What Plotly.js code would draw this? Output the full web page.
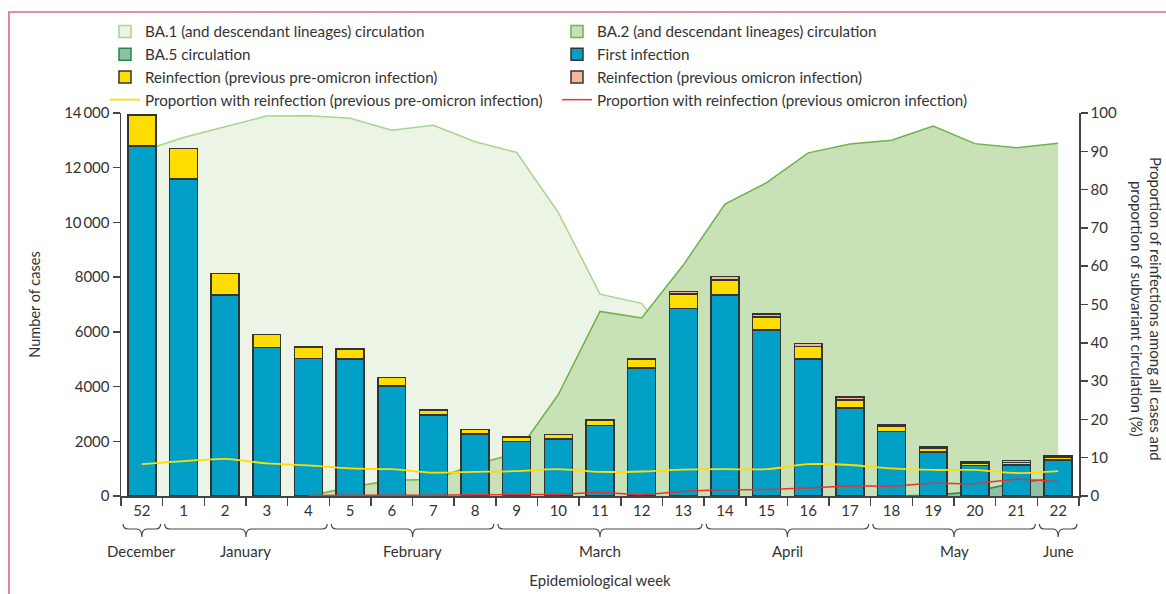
<!DOCTYPE html>
<html>
<head>
<meta charset="utf-8">
<script src="https://cdn.plot.ly/plotly-3.0.1.min.js"></script>
<style>
  html, body { margin:0; padding:0; background:#fff; }
  #chart { width:1166px; height:594px; }
</style>
</head>
<body>
<div id="chart"></div>
<script>
// ---------- DATA ----------
const weeks = ['52','1','2','3','4','5','6','7','8','9','10','11','12','13','14','15','16','17','18','19','20','21','22'];
const firstInfection = [12790,11580,7350,5420,5030,5000,4020,2960,2270,2000,2080,2580,4680,6860,7350,6070,5000,3220,2350,1610,1120,1130,1320];
const reinfPreOmicron = [1130,1130,790,490,420,365,305,175,165,160,160,185,320,520,552,467,463,296,202,129,91,102,96];
const reinfOmicron = [0,0,0,0,0,5,5,5,5,10,10,25,20,90,128,113,117,94,68,61,39,58,54];
const propPreOmicron = [8.3,9.1,9.7,8.5,8.0,7.2,7.0,6.1,6.3,6.5,7.0,6.3,6.4,6.9,7.0,7.0,8.3,8.1,7.2,6.8,6.8,6.0,6.5];
const propOmicron = [null,null,null,null,0.1,0.2,0.2,0.2,0.3,0.4,0.4,0.9,0.4,1.2,1.6,1.7,2.1,2.6,2.6,3.3,3.2,4.4,3.7];
const ba1 = [90.0,93.6,96.4,99.2,99.3,98.6,95.5,96.8,92.5,89.7,74.0,52.7,50.3,36,22,16,10,7,5,3,2,1,1];
const ba2 = [null,null,null,null,0,2.3,4.1,4.3,8.2,11.2,26.5,48.2,46.5,60.3,76.2,81.8,89.6,91.9,92.9,96.6,92.0,90.9,92.1];
const ba5 = [null,null,null,null,null,null,null,null,null,null,null,null,null,null,null,null,null,null,0,0.2,1.2,3.5,4.6];
const months = ['December','January','February','March','April','May','June'];
const monthStart = [0,1,5,9,14,18,22];
const monthEnd = [0,4,8,13,17,21,22];
const leftTicks = [0,2000,4000,6000,8000,10000,12000,14000];
const leftTickText = ['0','2000','4000','6000','8000','10\u2009000','12\u2009000','14\u2009000'];
const rightTicks = [0,10,20,30,40,50,60,70,80,90,100];

// ---------- STYLE ----------
const C = {
  blue:'#02A0C6', yellow:'#FFDD00', salmon:'#F8B79C', edge:'#333333',
  ba1Fill:'#ECF4E5', ba1Line:'#A9D48F',
  ba2Fill:'#C9E1B6', ba2Line:'#6DB24A',
  ba5Fill:'#90C0A3', ba5Line:'#1F8A4C',
  yLine:'#FFDD00', rLine:'#E8342B', axis:'#444444', text:'#333333'
};
const idx = weeks.map((w,i)=>i);
const PL=121, PR=1079, PT=113, PB=496, H=PB-PT, W=PR-PL;
const py = p => (PB - p)/H;
const px = p => (p - PL)/W;

const traces = [];
// areas (base axis y, 0-100)
traces.push({type:'scatter', mode:'lines', x:idx, y:ba1, yaxis:'y', fill:'tozeroy', fillcolor:C.ba1Fill,
  line:{color:C.ba1Line, width:1.5}, showlegend:false, hoverinfo:'skip'});
traces.push({type:'scatter', mode:'lines', x:idx, y:ba2, yaxis:'y', fill:'tozeroy', fillcolor:C.ba2Fill,
  line:{color:C.ba2Line, width:1.5}, showlegend:false, hoverinfo:'skip'});
traces.push({type:'scatter', mode:'lines', x:idx, y:ba5, yaxis:'y', fill:'tozeroy', fillcolor:C.ba5Fill,
  line:{color:C.ba5Line, width:1.5}, showlegend:false, hoverinfo:'skip'});

// bars (y2)
const barLine = {color:C.edge, width:1.5};
traces.push({type:'bar', name:'First infection', x:idx, y:firstInfection, yaxis:'y2',
  marker:{color:C.blue, line:barLine}, legendrank:4});
traces.push({type:'bar', name:'Reinfection (previous pre-omicron infection)', x:idx, y:reinfPreOmicron, yaxis:'y2',
  marker:{color:C.yellow, line:barLine}, legendrank:5});
traces.push({type:'bar', name:'Reinfection (previous omicron infection)', x:idx, y:reinfOmicron, yaxis:'y2',
  marker:{color:C.salmon, line:barLine}, legendrank:6});
// legend-only entries for areas
traces.push({type:'bar', name:'BA.1 (and descendant lineages) circulation', x:[null], y:[null], yaxis:'y2',
  marker:{color:C.ba1Fill, line:{color:C.ba1Line, width:1.5}}, legendrank:1, hoverinfo:'skip'});
traces.push({type:'bar', name:'BA.2 (and descendant lineages) circulation', x:[null], y:[null], yaxis:'y2',
  marker:{color:C.ba2Fill, line:{color:C.ba2Line, width:1.5}}, legendrank:2, hoverinfo:'skip'});
traces.push({type:'bar', name:'BA.5 circulation', x:[null], y:[null], yaxis:'y2',
  marker:{color:C.ba5Fill, line:{color:C.ba5Line, width:1.5}}, legendrank:3, hoverinfo:'skip'});

// lines (y3)
traces.push({type:'scatter', mode:'lines', name:'Proportion with reinfection (previous pre-omicron infection)',
  x:idx, y:propPreOmicron, yaxis:'y3', line:{color:C.yLine, width:1.8, shape:'spline', smoothing:0.8}, legendrank:7});
traces.push({type:'scatter', mode:'lines', name:'Proportion with reinfection (previous omicron infection)',
  x:idx, y:propOmicron, yaxis:'y3', line:{color:C.rLine, width:1.5, shape:'spline', smoothing:0.8}, legendrank:8});

// braces + month labels
const shapes = [];
const annotations = [];
months.forEach((m,i)=>{
  const a = monthStart[i]-0.5+0.05, b = monthEnd[i]+0.5-0.05, c = (monthStart[i]+monthEnd[i])/2;
  const d = Math.min(0.12, (b-a)/6);
  const path = `M${a},-28 Q${a},-33 ${a+d},-33 L${c-d},-33 Q${c},-33 ${c},-41 Q${c},-33 ${c+d},-33 L${b-d},-33 Q${b},-33 ${b},-28`;
  shapes.push({type:'path', xref:'x', yref:'paper', ysizemode:'pixel', yanchor:0, path:path,
    line:{color:C.axis, width:1.2}, layer:'above'});
  annotations.push({xref:'x', yref:'paper', x:c, y:py(551), text:m, showarrow:false,
    xanchor:'center', yanchor:'middle', font:{size:15, color:C.text}});
});
// right axis title
annotations.push({xref:'paper', yref:'paper', x:px(1146), y:py(309), textangle:90, showarrow:false,
  xanchor:'center', yanchor:'middle',
  text:'Proportion of reinfections among all cases and<br>proportion of subvariant circulation (%)',
  font:{size:15, color:C.text}});
// frame
shapes.push({type:'line', xref:'paper', yref:'paper', x0:px(8), x1:px(1166), y0:py(12), y1:py(12), line:{color:'#C51A45', width:1}});
shapes.push({type:'line', xref:'paper', yref:'paper', x0:px(9), x1:px(9), y0:py(12), y1:py(594), line:{color:'#DE86A6', width:2}});

const layout = {
  width:1166, height:594,
  margin:{l:PL, r:1166-PR, t:PT, b:594-PB},
  paper_bgcolor:'#fff', plot_bgcolor:'#fff',
  font:{family:'Lato, "Open Sans", sans-serif', size:15, color:C.text},
  barmode:'stack', bargap:0.33,
  showlegend:true,
  legend:{orientation:'h', x:px(105), xanchor:'left', y:py(15), yanchor:'top', traceorder:'normal',
    entrywidth:407, entrywidthmode:'pixels', font:{size:15.2, color:C.text}, bgcolor:'rgba(0,0,0,0)'},
  xaxis:{range:[-0.5,22.5], tickmode:'array', tickvals:idx, ticktext:weeks, ticks:'',
    showline:true, linecolor:C.axis, linewidth:1.5, showgrid:false, zeroline:false,
    tickfont:{size:15}, fixedrange:true,
    minor:{tickmode:'array', tickvals:idx.concat([idx.length]).map(v=>v-0.5), ticks:'outside', ticklen:8, tickwidth:1.5, tickcolor:C.axis, showgrid:false},
    title:{text:'Epidemiological week', standoff:58, font:{size:15}}},
  yaxis:{range:[0,100], visible:false, fixedrange:true},
  yaxis2:{overlaying:'y', side:'left', range:[0,14000], tickmode:'array', tickvals:leftTicks, ticktext:leftTickText,
    ticks:'outside', ticklen:7, tickwidth:1.5, tickcolor:C.axis, showline:true, linecolor:C.axis, linewidth:1.5,
    showgrid:false, zeroline:false, tickfont:{size:15}, fixedrange:true,
    title:{text:'Number of cases', standoff:20, font:{size:14.5}}},
  yaxis3:{overlaying:'y', side:'right', range:[0,100], tickmode:'array', tickvals:rightTicks,
    ticks:'outside', ticklen:7, tickwidth:1.5, tickcolor:C.axis, showline:true, linecolor:C.axis, linewidth:1.5,
    showgrid:false, zeroline:false, tickfont:{size:15}, fixedrange:true},
  shapes:shapes, annotations:annotations
};

Plotly.newPlot('chart', traces, layout, {displayModeBar:false, staticPlot:true});
</script>
</body>
</html>
